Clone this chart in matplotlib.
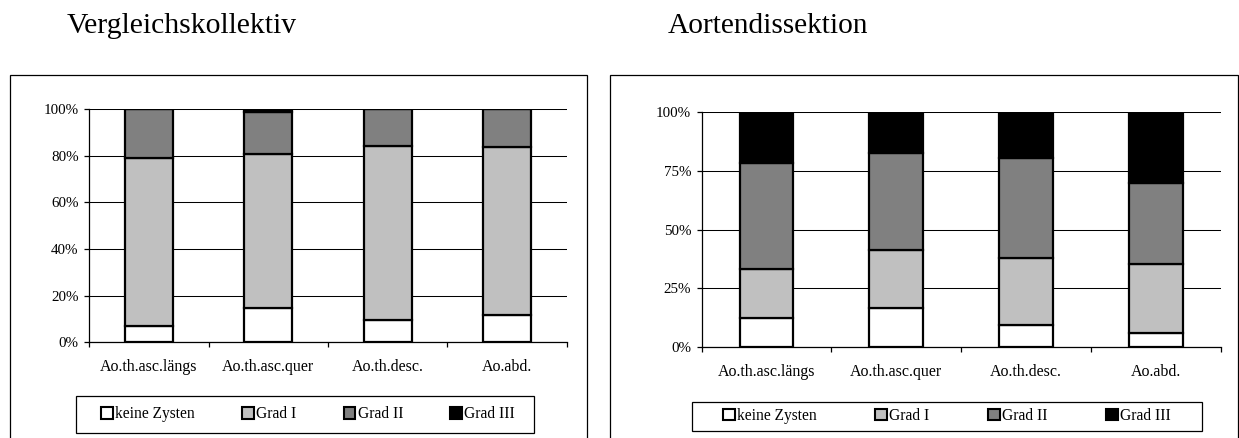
import numpy as np
import matplotlib
matplotlib.use("Agg")
import matplotlib.pyplot as plt
from matplotlib.patches import Rectangle, Patch
from matplotlib.ticker import FixedLocator

plt.rcParams["font.family"] = ["Liberation Serif", "DejaVu Serif"]

# Categories (aortic segments) and cyst grades
categories = ["Ao.th.asc.längs", "Ao.th.asc.quer", "Ao.th.desc.", "Ao.abd."]
grades = ["keine Zysten", "Grad I", "Grad II", "Grad III"]
grade_colors = ["#FFFFFF", "#C0C0C0", "#808080", "#000000"]

# Percentage shares per grade, comparison group
vergleich_keine = [7.2, 14.8, 9.7, 11.9]
vergleich_grad1 = [71.6, 65.7, 74.5, 71.9]
vergleich_grad2 = [21.2, 18.4, 15.8, 16.2]
vergleich_grad3 = [0.0, 1.1, 0.0, 0.0]

# Percentage shares per grade, aortic dissection group
dissektion_keine = [12.4, 16.6, 9.4, 5.9]
dissektion_grad1 = [20.7, 24.9, 28.6, 29.6]
dissektion_grad2 = [45.5, 41.2, 42.4, 34.4]
dissektion_grad3 = [21.4, 17.3, 19.6, 30.1]

left_ticks = [0, 20, 40, 60, 80, 100]
right_ticks = [0, 25, 50, 75, 100]

W, H = 1239, 438
fig = plt.figure(figsize=(W / 100, H / 100), dpi=100)


def fx(px):
    return px / W


def fy(py):
    return (H - py) / H


def stacked_panel(rect, series, yticks, bar_width, label_pad,
                  legend_frame, legend_inner):
    ax = fig.add_axes(rect)
    x = np.arange(len(categories))
    bottom = np.zeros(len(categories))
    handles = []
    for vals, color, name in zip(series, grade_colors, grades):
        vals = np.asarray(vals, dtype=float)
        ax.bar(x, vals, bar_width, bottom=bottom, color=color,
               edgecolor="black", linewidth=1.6, zorder=3)
        bottom += vals
        handles.append(Patch(facecolor=color, edgecolor="black",
                             linewidth=1.5, label=name))
    ax.set_xlim(-0.5, len(categories) - 0.5)
    ax.set_ylim(0, 100)
    ax.set_yticks(yticks)
    ax.set_yticklabels([f"{t}%" for t in yticks])
    ax.yaxis.grid(True, color="black", linewidth=0.75, zorder=0)
    ax.set_axisbelow(True)
    for s in ("top", "right"):
        ax.spines[s].set_visible(False)
    for s in ("left", "bottom"):
        ax.spines[s].set_linewidth(0.9)
    ax.tick_params(axis="y", direction="out", length=3.3, width=0.9,
                   pad=4.3, labelsize=10.8)
    # category names centred, tick marks between categories
    ax.set_xticks(x)
    ax.set_xticklabels(categories)
    ax.tick_params(axis="x", which="major", length=0, pad=label_pad,
                   labelsize=11.5)
    ax.xaxis.set_minor_locator(FixedLocator(np.arange(-0.5, len(categories))))
    ax.tick_params(axis="x", which="minor", direction="out", length=3.3,
                   width=0.9)

    # legend box and its entries spread across the inner width
    fx0, fy0, fx1, fy1 = legend_frame
    fig.patches.append(Rectangle((fx(fx0), fy(fy1)), fx(fx1) - fx(fx0),
                                 fy(fy0) - fy(fy1), transform=fig.transFigure,
                                 fill=False, edgecolor="black",
                                 linewidth=0.9, zorder=-1))
    ix0, ix1 = legend_inner
    ax.legend(handles=handles, loc="center",
              bbox_to_anchor=(fx(ix0), fy(fy1), fx(ix1) - fx(ix0),
                              fy(fy0) - fy(fy1)),
              bbox_transform=fig.transFigure, mode="expand", ncol=4,
              fontsize=11.2, frameon=False, borderaxespad=0,
              borderpad=0, handlelength=0.75, handleheight=0.75,
              handletextpad=0.15, columnspacing=0.5)
    return ax


# outer chart frames (open at the bottom of the figure)
for x0, x1 in ((10, 586.7), (610, 1238)):
    fig.patches.append(Rectangle((fx(x0), -0.1), fx(x1) - fx(x0),
                                 fy(75) + 0.1, transform=fig.transFigure,
                                 fill=False, edgecolor="black",
                                 linewidth=0.9, zorder=-1))

stacked_panel([fx(89.3), fy(342.3), fx(566.7) - fx(89.3), fy(109) - fy(342.3)],
              [vergleich_keine, vergleich_grad1, vergleich_grad2,
               vergleich_grad3],
              left_ticks, 0.40, 12, (76, 396, 534, 433), (101, 515))

stacked_panel([fx(701.7), fy(347), fx(1220.6) - fx(701.7), fy(112.3) - fy(347)],
              [dissektion_keine, dissektion_grad1, dissektion_grad2,
               dissektion_grad3],
              right_ticks, 0.415, 12, (691.6, 401.5, 1201.5, 430.7),
              (723, 1171))

fig.text(fx(67), fy(33), "Vergleichskollektiv", fontsize=21.3,
         ha="left", va="baseline")
fig.text(fx(668), fy(33), "Aortendissektion", fontsize=21.2,
         ha="left", va="baseline")

fig.savefig("out.png", dpi=100, facecolor="white")
